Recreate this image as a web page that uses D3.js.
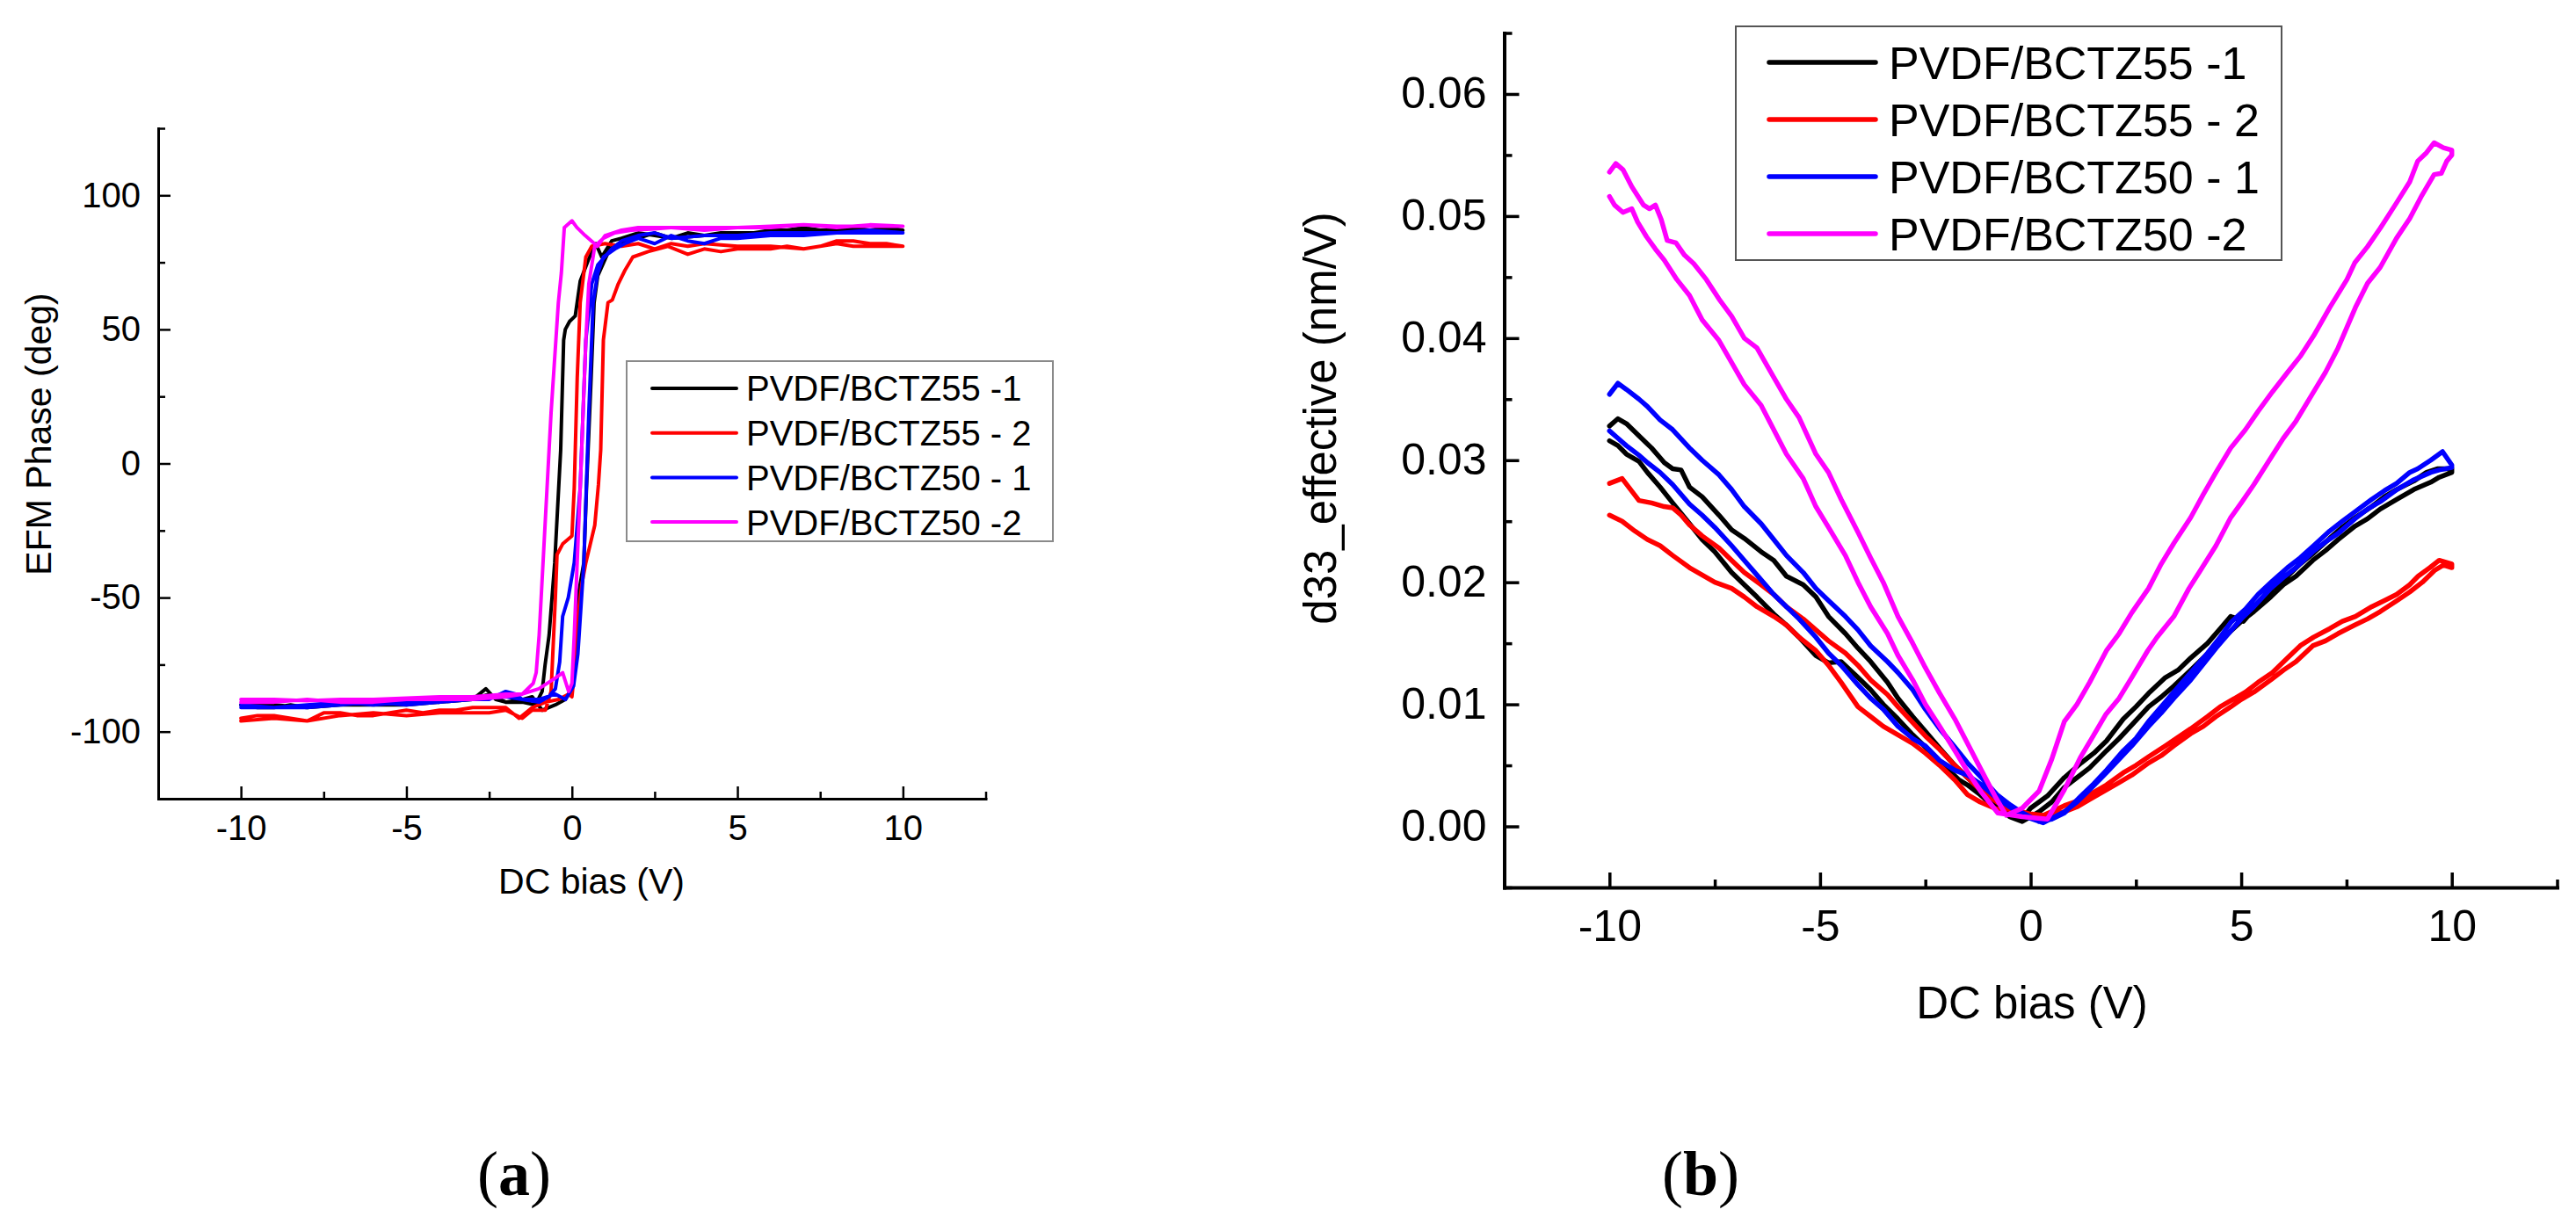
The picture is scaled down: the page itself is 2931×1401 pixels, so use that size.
<!DOCTYPE html>
<html>
<head>
<meta charset="utf-8">
<script src="https://cdn.jsdelivr.net/npm/d3@7"></script>
<style>
  body { margin: 0; background: #ffffff; }
  svg { display: block; }
</style>
</head>
<body>
<div id="chart"></div>
<script>
// --- DATA --- //
var seriesNames = ["PVDF/BCTZ55 -1", "PVDF/BCTZ55 - 2", "PVDF/BCTZ50 - 1", "PVDF/BCTZ50 -2"];
var seriesColors = ["#000000", "#ff0000", "#0000ff", "#ff00ff"];

var biasTicks = [-10, -5, 0, 5, 10];
var biasMinor = [-12.5, -7.5, -2.5, 2.5, 7.5, 12.5];
var phaseTicks = [-100, -50, 0, 50, 100];
var phaseMinor = [-125, -75, -25, 25, 75, 125];
var d33Ticks = [0, 0.01, 0.02, 0.03, 0.04, 0.05, 0.06];
var d33Minor = [-0.005, 0.005, 0.015, 0.025, 0.035, 0.045, 0.055, 0.065];

// (a) EFM phase loops, [bias V, phase deg], sweep up then back down
var phase55_1 = [[-10,-90],[-9.5,-91],[-9,-91],[-8.5,-90],[-8,-91],[-7.5,-90],[-7,-90],[-6.5,-89],[-6,-90],[-5.5,-89],[-5,-90],[-4.5,-89],[-4,-89],[-3.5,-88],[-3,-88],[-2.6,-84],[-2.3,-88],[-2,-89],[-1.5,-88],[-1.2,-87],[-0.9,-92],[-0.5,-90],[-0.2,-88],[0,-84],[0.1,-70],[0.18,-50],[0.36,-37],[0.44,-9],[0.58,32],[0.67,60],[0.78,70],[1.14,80],[1.58,83],[2,84],[2.5,86],[3,84],[3.5,86],[4,85],[4.5,86],[5,86],[5.5,86],[6,87],[6.5,87],[7,88],[7.5,87],[8,87],[8.5,88],[9,87],[9.5,87],[10,87],
  [9.5,88],[9,87],[8,87],[7,87],[6,86],[5,86],[4,85],[3,84],[2.5,85],[2,86],[1.5,84],[1.2,83],[0.9,77],[0.72,82],[0.5,76],[0.25,68],[0.1,55],[-0.07,53],[-0.2,50],[-0.25,46],[-0.34,5],[-0.52,-37],[-0.69,-64],[-0.81,-75],[-0.9,-85],[-1.1,-90],[-1.5,-89],[-2,-89],[-2.5,-86],[-3,-88],[-4,-89],[-5,-90],[-6,-90],[-7,-90],[-8,-91],[-9,-90],[-10,-90]];
var phase55_2 = [[-10,-95],[-9.5,-94],[-9,-94],[-8.5,-95],[-8,-96],[-7.5,-93],[-7,-93],[-6.5,-94],[-6,-94],[-5.5,-93],[-5,-92],[-4.5,-93],[-4,-92],[-3.5,-92],[-3,-91],[-2.5,-91],[-2,-91],[-1.6,-95],[-1.2,-91],[-0.8,-89],[-0.4,-88],[-0.1,-86],[0,-87],[0.1,-75],[0.18,-57],[0.3,-45],[0.42,-37],[0.69,-23],[0.8,-8],[0.87,5],[0.95,46],[1.09,60],[1.22,61],[1.4,67],[1.6,72],[1.84,77],[2.3,79],[2.9,81],[3.5,78],[4,80],[4.5,79],[5,80],[5.5,80],[6,80],[6.5,81],[7,80],[7.5,81],[8,82],[8.5,81],[9,81],[9.5,81],[10,81],
  [9.5,82],[9,82],[8.5,83],[8,83],[7.5,81],[7,80],[6,81],[5,81],[4,82],[3.5,81],[3,82],[2.5,80],[2,82],[1.5,81],[1,82],[0.6,81],[0.42,77],[0.25,60],[0.16,32],[0.07,-9],[0,-27],[-0.28,-30],[-0.45,-34],[-0.5,-50],[-0.63,-85],[-0.8,-92],[-1.2,-92],[-1.5,-95],[-2,-92],[-2.5,-93],[-3,-93],[-4,-93],[-5,-94],[-6,-93],[-7,-94],[-8,-96],[-9,-95],[-10,-96]];
var phase50_1 = [[-10,-91],[-9,-91],[-8,-90],[-7,-89],[-6,-90],[-5,-89],[-4,-89],[-3,-88],[-2.5,-88],[-2,-85],[-1.7,-86],[-1.5,-88],[-1,-88],[-0.5,-86],[-0.2,-88],[0.05,-83],[0.18,-71],[0.36,-37],[0.51,19],[0.64,60],[0.78,71],[0.95,77],[1.3,80],[1.6,82],[2,84],[2.5,82],[3,85],[3.5,83],[4,82],[4.5,84],[5,84],[6,85],[7,85],[8,86],[9,86],[10,86],
  [9,87],[8,86],[7,86],[6,86],[5,85],[4,85],[3,84],[2.5,86],[2,85],[1.5,83],[1.2,80],[0.78,74],[0.6,67],[0.42,46],[0.25,-9],[0.07,-37],[-0.11,-50],[-0.28,-57],[-0.37,-74],[-0.5,-84],[-0.7,-87],[-1,-89],[-2,-87],[-3,-88],[-4,-89],[-5,-90],[-6,-89],[-7,-90],[-8,-91],[-9,-91],[-10,-90]];
var phase50_2 = [[-10,-88],[-9,-88],[-8,-88.5],[-7,-88],[-6,-88],[-5,-87.5],[-4,-87],[-3,-87],[-2,-86],[-1.5,-86],[-1,-84],[-0.5,-80],[-0.28,-78],[-0.1,-85],[0,-82],[0.07,-64],[0.25,-9],[0.42,46],[0.51,67],[0.69,81],[0.95,84],[1.3,86],[1.8,87],[2.5,87.5],[3,88],[4,88],[5,88],[6,88.5],[7,89],[8,88.5],[9,88.5],[10,88.5],
  [9,89],[8,88],[7,89],[6,88],[5,88],[4,87],[3,88],[2,88],[1.5,87],[1,85],[0.77,81],[0.4,85],[0.15,88],[0,90.5],[-0.23,88],[-0.32,71],[-0.41,60],[-0.63,19],[-0.99,-64],[-1.08,-78],[-1.17,-82],[-1.5,-86],[-2,-87],[-3,-88],[-4,-88],[-5,-88],[-6,-89],[-7,-89],[-8,-88],[-9,-89],[-10,-89]];

// (b) d33 butterfly loops, [bias V, d33 nm/V], first branch then the return branch
var d33_55_1 = [[-10,0.0328],[-9.8,0.0334],[-9.6,0.033],[-9.3,0.032],[-9,0.031],[-8.7,0.0298],[-8.5,0.0293],[-8.3,0.0292],[-8.1,0.0278],[-7.8,0.027],[-7.4,0.0255],[-7.1,0.0243],[-6.8,0.0236],[-6.4,0.0225],[-6.1,0.0218],[-5.8,0.0205],[-5.4,0.0198],[-5.1,0.0188],[-4.8,0.0172],[-4.4,0.0158],[-4.1,0.0146],[-3.8,0.0135],[-3.4,0.0118],[-3.15,0.0105],[-2.8,0.009],[-2.5,0.0078],[-2.16,0.0064],[-1.8,0.005],[-1.5,0.004],[-1.17,0.0029],[-0.8,0.0018],[-0.5,0.0012],[-0.2,0.0006],[0,0.0015],[0.4,0.0025],[0.8,0.004],[1.2,0.0052],[1.5,0.006],[1.8,0.007],[2.2,0.0088],[2.5,0.0098],[2.8,0.0109],[3.2,0.0122],[3.5,0.0128],[3.8,0.0138],[4.2,0.015],[4.5,0.0162],[4.75,0.0172],[5.05,0.0168],[5.4,0.0182],[5.74,0.0195],[6.1,0.0205],[6.4,0.0215],[6.72,0.0224],[7.1,0.0236],[7.4,0.0245],[7.71,0.0253],[8.1,0.0262],[8.4,0.027],[8.69,0.0276],[9.1,0.0283],[9.4,0.029],[9.67,0.0293],[10,0.0293],
  [10,0.029],[9.7,0.0286],[9.5,0.0282],[9.1,0.0276],[8.7,0.0268],[8.3,0.026],[8,0.0252],[7.7,0.0246],[7.3,0.0235],[7,0.0226],[6.7,0.0218],[6.3,0.0205],[6,0.0198],[5.7,0.0188],[5.3,0.0176],[5,0.0168],[4.75,0.016],[4.4,0.0148],[4.1,0.0138],[3.8,0.0128],[3.4,0.0115],[3.1,0.0106],[2.8,0.0098],[2.4,0.0083],[2.1,0.0072],[1.8,0.0062],[1.4,0.0048],[1.1,0.004],[0.8,0.0032],[0.5,0.002],[0.2,0.0012],[-0.2,0.0004],[-0.5,0.0008],[-0.7,0.0014],[-1,0.002],[-1.2,0.0026],[-1.5,0.0034],[-1.7,0.0038],[-2,0.0048],[-2.16,0.0052],[-2.5,0.0065],[-2.8,0.0075],[-3.15,0.0088],[-3.5,0.01],[-3.8,0.0112],[-4.1,0.0122],[-4.5,0.0135],[-4.8,0.0134],[-5.1,0.014],[-5.5,0.0155],[-5.8,0.0165],[-6.1,0.0174],[-6.5,0.0188],[-6.8,0.0198],[-7.1,0.0208],[-7.5,0.0225],[-7.8,0.0235],[-8.1,0.0248],[-8.5,0.0265],[-8.8,0.0278],[-9.1,0.029],[-9.3,0.0299],[-9.6,0.0305],[-9.8,0.0312],[-10,0.0316]];
var d33_55_2 = [[-10,0.0281],[-9.7,0.0285],[-9.5,0.0276],[-9.3,0.0267],[-9,0.0265],[-8.7,0.0262],[-8.5,0.0261],[-8.3,0.0255],[-8.1,0.0247],[-7.8,0.0238],[-7.4,0.0228],[-7.1,0.0218],[-6.8,0.0208],[-6.4,0.0198],[-6.1,0.019],[-5.8,0.018],[-5.4,0.017],[-5.1,0.0161],[-4.8,0.0152],[-4.4,0.0142],[-4.1,0.0132],[-3.8,0.012],[-3.4,0.0108],[-3.15,0.0098],[-2.8,0.0085],[-2.5,0.0074],[-2.16,0.0063],[-1.8,0.005],[-1.5,0.004],[-1.17,0.0029],[-0.8,0.002],[-0.5,0.0014],[-0.19,0.0011],[0.3,0.0009],[0.8,0.0017],[1.2,0.0022],[1.5,0.0028],[1.8,0.0034],[2.2,0.0044],[2.5,0.005],[2.8,0.0057],[3.2,0.0066],[3.5,0.0073],[3.8,0.008],[4.2,0.009],[4.5,0.0098],[4.75,0.0103],[5.1,0.011],[5.4,0.0118],[5.74,0.0126],[6.1,0.0138],[6.4,0.0148],[6.72,0.0155],[7.1,0.0162],[7.4,0.0168],[7.71,0.0172],[8.1,0.018],[8.4,0.0185],[8.69,0.019],[9,0.0198],[9.2,0.0205],[9.48,0.0212],[9.7,0.0218],[10,0.0215],
  [10,0.0212],[9.8,0.0214],[9.6,0.021],[9.3,0.02],[9,0.0192],[8.7,0.0185],[8.3,0.0176],[8,0.017],[7.7,0.0165],[7.3,0.0158],[7,0.0152],[6.7,0.0148],[6.3,0.0135],[6,0.0128],[5.7,0.012],[5.3,0.011],[5,0.0104],[4.75,0.0098],[4.4,0.009],[4.1,0.0082],[3.8,0.0076],[3.4,0.0066],[3.1,0.0058],[2.8,0.0052],[2.4,0.0042],[2.1,0.0036],[1.8,0.003],[1.4,0.0022],[1.1,0.0016],[0.8,0.0012],[0.2,0.0008],[-0.4,0.0014],[-0.8,0.0014],[-1.2,0.002],[-1.5,0.0026],[-1.8,0.0038],[-2.16,0.005],[-2.5,0.006],[-2.8,0.0068],[-3.15,0.0075],[-3.5,0.0082],[-3.8,0.009],[-4.1,0.0098],[-4.5,0.0118],[-4.8,0.0132],[-5.1,0.0144],[-5.5,0.0155],[-5.8,0.0165],[-6.1,0.0172],[-6.5,0.018],[-6.8,0.0188],[-7.1,0.0195],[-7.5,0.02],[-7.8,0.0206],[-8.1,0.0212],[-8.5,0.0222],[-8.8,0.023],[-9.1,0.0235],[-9.4,0.0242],[-9.7,0.025],[-10,0.0255]];
var d33_50_1 = [[-10,0.0354],[-9.8,0.0363],[-9.6,0.0358],[-9.3,0.035],[-9.1,0.0344],[-8.8,0.0333],[-8.5,0.0325],[-8.1,0.031],[-7.8,0.03],[-7.4,0.0288],[-7.1,0.0276],[-6.8,0.0262],[-6.4,0.0248],[-6.1,0.0235],[-5.8,0.0222],[-5.4,0.0208],[-5.1,0.0195],[-4.8,0.0185],[-4.4,0.0172],[-4.1,0.0161],[-3.8,0.0148],[-3.4,0.0135],[-3.15,0.0126],[-2.8,0.0112],[-2.5,0.0096],[-2.16,0.008],[-1.8,0.0065],[-1.5,0.0052],[-1.17,0.004],[-0.8,0.0026],[-0.5,0.0018],[-0.19,0.0011],[0.2,0.0004],[0.5,0.0006],[0.8,0.0011],[1.2,0.0025],[1.5,0.0035],[1.8,0.0046],[2.2,0.0062],[2.5,0.0072],[2.8,0.0086],[3.2,0.0102],[3.5,0.0114],[3.8,0.0126],[4.2,0.0142],[4.5,0.0155],[4.75,0.0167],[5.1,0.0178],[5.4,0.019],[5.74,0.0201],[6.1,0.0212],[6.4,0.022],[6.72,0.023],[7.1,0.0242],[7.4,0.025],[7.71,0.0258],[8.1,0.0268],[8.4,0.0275],[8.69,0.0281],[9,0.029],[9.19,0.0293],[9.5,0.03],[9.78,0.0307],[10,0.0296],
  [10,0.0294],[9.7,0.0292],[9.5,0.029],[9.1,0.0284],[8.7,0.0276],[8.3,0.0266],[8,0.026],[7.7,0.0252],[7.3,0.024],[7,0.0233],[6.7,0.0225],[6.3,0.0212],[6,0.0204],[5.7,0.0195],[5.3,0.018],[5,0.017],[4.75,0.016],[4.4,0.0146],[4.1,0.0133],[3.8,0.012],[3.4,0.0105],[3.1,0.0093],[2.8,0.0082],[2.4,0.0066],[2.1,0.0055],[1.8,0.0044],[1.4,0.003],[1.1,0.002],[0.8,0.0012],[0.3,0.0003],[-0.2,0.0009],[-0.5,0.0016],[-0.8,0.0023],[-1.2,0.0035],[-1.5,0.0042],[-1.8,0.0046],[-2.16,0.0054],[-2.5,0.0066],[-2.8,0.0072],[-3.15,0.0082],[-3.5,0.0096],[-3.8,0.0105],[-4.1,0.0116],[-4.5,0.0132],[-4.8,0.0142],[-5.1,0.0155],[-5.5,0.017],[-5.8,0.018],[-6.1,0.019],[-6.5,0.0206],[-6.8,0.0218],[-7.1,0.023],[-7.5,0.0245],[-7.8,0.0255],[-8.1,0.0264],[-8.5,0.028],[-8.8,0.029],[-9.1,0.0298],[-9.3,0.0304],[-9.6,0.0312],[-9.8,0.0318],[-10,0.0324]];
var d33_50_2 = [[-10,0.0536],[-9.85,0.0543],[-9.68,0.0538],[-9.47,0.0524],[-9.19,0.0509],[-9.05,0.0506],[-8.91,0.0509],[-8.77,0.0497],[-8.63,0.048],[-8.42,0.0478],[-8.22,0.0468],[-8,0.0461],[-7.7,0.0448],[-7.4,0.0432],[-7.1,0.0418],[-6.8,0.04],[-6.5,0.0392],[-6.1,0.0368],[-5.8,0.035],[-5.5,0.0335],[-5.1,0.0305],[-4.8,0.029],[-4.5,0.0268],[-4.1,0.0241],[-3.8,0.022],[-3.5,0.02],[-3.15,0.0172],[-2.8,0.015],[-2.5,0.013],[-2.16,0.0109],[-1.8,0.0088],[-1.5,0.0068],[-1.17,0.0046],[-0.85,0.0025],[-0.58,0.0009],[-0.2,0.0015],[0.2,0.0029],[0.5,0.0055],[0.8,0.0086],[1.1,0.01],[1.4,0.0118],[1.8,0.0144],[2.1,0.0158],[2.4,0.0175],[2.8,0.0195],[3.1,0.0215],[3.4,0.0232],[3.8,0.0253],[4.1,0.0272],[4.4,0.029],[4.75,0.031],[5.1,0.0325],[5.4,0.034],[5.74,0.0356],[6.1,0.0372],[6.4,0.0385],[6.72,0.0402],[7.1,0.0425],[7.51,0.0448],[7.7,0.0462],[8,0.0475],[8.3,0.049],[8.69,0.0511],[9,0.0528],[9.19,0.0545],[9.4,0.0552],[9.58,0.056],[9.8,0.0556],[10,0.0554],
  [10,0.055],[9.88,0.0545],[9.75,0.0535],[9.58,0.0534],[9.29,0.0517],[9,0.0498],[8.69,0.0482],[8.3,0.0458],[8,0.0445],[7.71,0.0425],[7.3,0.0392],[7,0.0372],[6.72,0.0356],[6.3,0.0332],[6,0.0318],[5.74,0.0304],[5.3,0.028],[5,0.0265],[4.75,0.0253],[4.4,0.023],[4,0.0208],[3.76,0.0195],[3.4,0.0172],[3,0.0155],[2.78,0.0144],[2.4,0.0122],[2.1,0.0105],[1.79,0.0092],[1.5,0.0075],[1.19,0.0057],[0.8,0.003],[0.4,0.0006],[-0.2,0.0008],[-0.78,0.0011],[-1.17,0.0028],[-1.5,0.0045],[-1.8,0.0062],[-2.16,0.0082],[-2.5,0.01],[-2.8,0.012],[-3.15,0.014],[-3.4,0.0158],[-3.8,0.018],[-4.1,0.02],[-4.4,0.0222],[-4.8,0.0245],[-5.1,0.0262],[-5.4,0.0285],[-5.8,0.0305],[-6.1,0.0325],[-6.4,0.0345],[-6.8,0.0362],[-7.1,0.038],[-7.4,0.0398],[-7.8,0.0415],[-8.1,0.0435],[-8.4,0.0448],[-8.7,0.0464],[-8.91,0.0473],[-9.12,0.0483],[-9.33,0.0495],[-9.47,0.0506],[-9.68,0.0503],[-9.88,0.0509],[-10,0.0516]];

// --- LAYOUT --- //
var panelA = {
    left: 180, right: 1121.5, top: 146, bottom: 909,
    yDomain: [-125, 125], yTicks: phaseTicks, yMinor: phaseMinor,
    yFormat: function(d){ return String(d); },
    font: 40, majorLen: 14, minorLen: 8, axisWidth: 3, lineWidth: 4,
    xPad: 19, yPad: 20,
    xTitle: {text: "DC bias (V)", x: 673, y: 1017},
    yTitle: {text: "EFM Phase (deg)", x: 58, y: 494},
    legend: {x: 713, y: 411, w: 485, h: 205, x1: 742, x2: 838, tx: 849, y0: 442, step: 50.7, font: 40, lw: 4, stroke: "#8a8a8a"},
    data: [phase55_1, phase55_2, phase50_1, phase50_2]
};
var panelB = {
    left: 1711.5, right: 2909.5, top: 37.5, bottom: 1010,
    yDomain: [-0.005, 0.065], yTicks: d33Ticks, yMinor: d33Minor,
    yFormat: function(d){ return d.toFixed(2); },
    font: 50, majorLen: 17, minorLen: 9, axisWidth: 4, lineWidth: 5.5,
    xPad: 25, yPad: 20,
    xTitle: {text: "DC bias (V)", x: 2312, y: 1159},
    yTitle: {text: "d33_effective (nm/V)", x: 1520, y: 476},
    legend: {x: 1975, y: 30, w: 621, h: 266, x1: 2013, x2: 2134, tx: 2149, y0: 71, step: 65, font: 52, lw: 5.5, stroke: "#555555"},
    data: [d33_55_1, d33_55_2, d33_50_1, d33_50_2]
};

var fontSans = "'Liberation Sans', Arial, Helvetica, sans-serif";

var svg = d3.select("#chart")
    .append("svg")
    .attr("width", 2931)
    .attr("height", 1401);

svg.append("rect")
    .attr("width", 2931)
    .attr("height", 1401)
    .attr("fill", "#ffffff");

drawPanel(svg, panelA);
drawPanel(svg, panelB);

// panel captions
[{label: "a", x: 585}, {label: "b", x: 1935}].forEach(function(c){
    var t = svg.append("text")
        .attr("x", c.x)
        .attr("y", 1360)
        .attr("text-anchor", "middle")
        .attr("font-family", "'Liberation Serif', 'Times New Roman', serif")
        .attr("font-size", "72px")
        .attr("fill", "#000");
    t.append("tspan").text("(");
    t.append("tspan").attr("font-weight", "bold").text(c.label);
    t.append("tspan").text(")");
});

function drawPanel(svg, cfg){
    var g = svg.append("g");

    // --- SCALES --- //
    var xScale = d3.scaleLinear()
        .domain([-12.5, 12.5])
        .range([cfg.left, cfg.right]);
    var yScale = d3.scaleLinear()
        .domain(cfg.yDomain)
        .range([cfg.bottom, cfg.top]);

    // --- AXES --- //
    // minor ticks first, no labels
    var xMinorAxis = g.append("g")
        .attr("transform", "translate(0," + cfg.bottom + ")")
        .call(d3.axisBottom(xScale)
            .tickValues(biasMinor)
            .tickSize(-cfg.minorLen)
            .tickSizeOuter(0)
            .tickFormat(""));
    var yMinorAxis = g.append("g")
        .attr("transform", "translate(" + cfg.left + ",0)")
        .call(d3.axisLeft(yScale)
            .tickValues(cfg.yMinor)
            .tickSize(-cfg.minorLen)
            .tickSizeOuter(0)
            .tickFormat(""));
    [xMinorAxis, yMinorAxis].forEach(function(a){
        a.select(".domain").remove();
        a.selectAll(".tick line")
            .attr("stroke", "#000")
            .attr("stroke-width", cfg.axisWidth - 0.5);
    });

    var xAxis = g.append("g")
        .attr("transform", "translate(0," + cfg.bottom + ")")
        .call(d3.axisBottom(xScale)
            .tickValues(biasTicks)
            .tickSize(-cfg.majorLen)
            .tickSizeOuter(0)
            .tickPadding(cfg.xPad)
            .tickFormat(function(d){ return String(d); }));
    var yAxis = g.append("g")
        .attr("transform", "translate(" + cfg.left + ",0)")
        .call(d3.axisLeft(yScale)
            .tickValues(cfg.yTicks)
            .tickSize(-cfg.majorLen)
            .tickSizeOuter(0)
            .tickPadding(cfg.yPad)
            .tickFormat(cfg.yFormat));
    [xAxis, yAxis].forEach(function(a){
        a.attr("font-family", fontSans)
            .attr("font-size", cfg.font + "px");
        a.select(".domain")
            .attr("stroke", "#000")
            .attr("stroke-width", cfg.axisWidth)
            .attr("stroke-linecap", "square");
        a.selectAll(".tick line")
            .attr("stroke", "#000")
            .attr("stroke-width", cfg.axisWidth - 0.5);
        a.selectAll(".tick text")
            .attr("fill", "#000");
    });

    // --- LINES --- //
    var line = d3.line()
        .x(function(d){ return xScale(d[0]); })
        .y(function(d){ return yScale(d[1]); });

    g.append("g")
        .attr("class", "lines")
        .selectAll("path")
        .data(cfg.data)
        .enter()
        .append("path")
        .attr("fill", "none")
        .attr("stroke", function(d, i){ return seriesColors[i]; })
        .attr("stroke-width", cfg.lineWidth)
        .attr("stroke-linejoin", "round")
        .attr("stroke-linecap", "round")
        .attr("d", line);

    // --- TITLES --- //
    g.append("text")
        .attr("x", cfg.xTitle.x)
        .attr("y", cfg.xTitle.y)
        .attr("text-anchor", "middle")
        .attr("font-family", fontSans)
        .attr("font-size", (cfg.font + 1) + "px")
        .attr("fill", "#000")
        .text(cfg.xTitle.text);
    g.append("text")
        .attr("transform", "translate(" + cfg.yTitle.x + "," + cfg.yTitle.y + ") rotate(-90)")
        .attr("text-anchor", "middle")
        .attr("font-family", fontSans)
        .attr("font-size", (cfg.font + 1) + "px")
        .attr("fill", "#000")
        .text(cfg.yTitle.text);

    // --- LEGEND --- //
    var L = cfg.legend;
    var leg = g.append("g").attr("class", "legend");
    leg.append("rect")
        .attr("x", L.x)
        .attr("y", L.y)
        .attr("width", L.w)
        .attr("height", L.h)
        .attr("fill", "#ffffff")
        .attr("stroke", L.stroke)
        .attr("stroke-width", 2);
    var rows = leg.selectAll("g.row")
        .data(seriesNames)
        .enter()
        .append("g")
        .attr("class", "row");
    rows.append("line")
        .attr("x1", L.x1)
        .attr("x2", L.x2)
        .attr("y1", function(d, i){ return L.y0 + i * L.step; })
        .attr("y2", function(d, i){ return L.y0 + i * L.step; })
        .attr("stroke", function(d, i){ return seriesColors[i]; })
        .attr("stroke-width", L.lw)
        .attr("stroke-linecap", "round");
    rows.append("text")
        .attr("x", L.tx)
        .attr("y", function(d, i){ return L.y0 + i * L.step; })
        .attr("dy", "0.36em")
        .attr("font-family", fontSans)
        .attr("font-size", L.font + "px")
        .attr("fill", "#000")
        .text(function(d){ return d; });
}
</script>
</body>
</html>
